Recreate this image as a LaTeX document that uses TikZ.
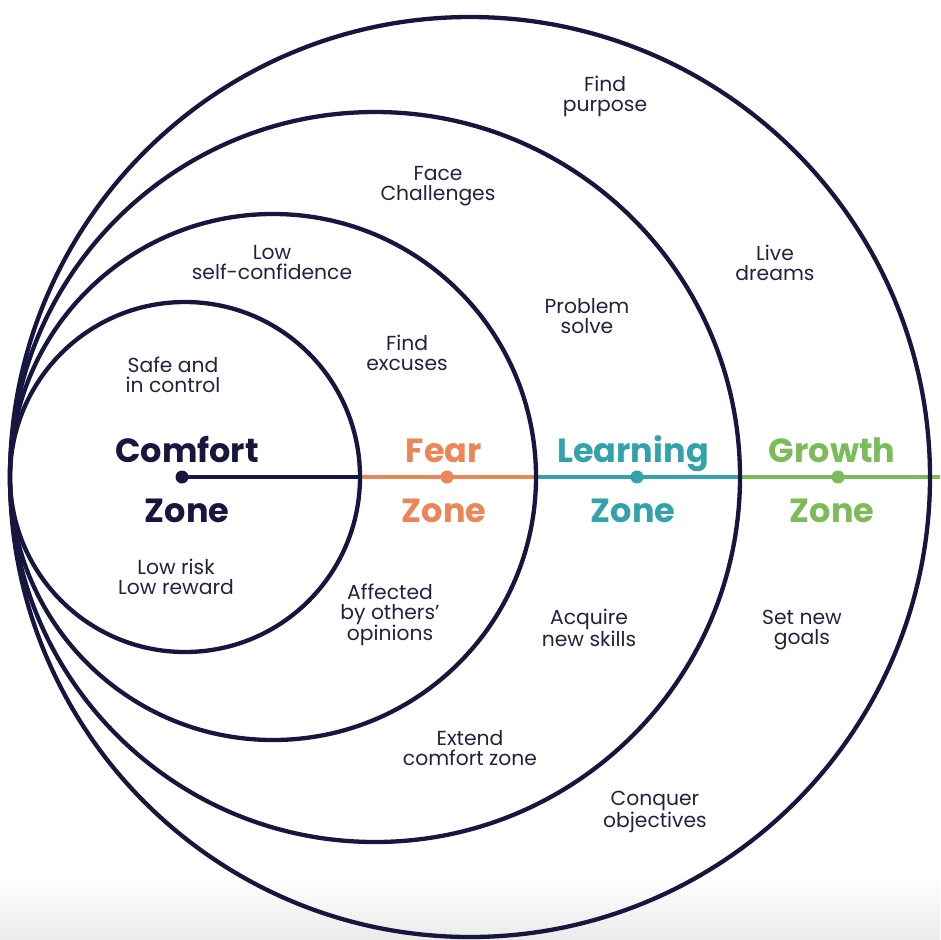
\documentclass[tikz,border=0pt]{standalone}
\usepackage{fontspec}
\setmainfont{Poppins}
\definecolor{navy}{HTML}{16163F}
\definecolor{txt}{HTML}{22223F}
\definecolor{zorange}{HTML}{EC8558}
\definecolor{zteal}{HTML}{33A3AB}
\definecolor{zgreen}{HTML}{7DBA58}
\begin{document}
\begin{tikzpicture}[x=1pt,y=-1pt,
  ring/.style={circle,inner sep=0pt,outer sep=0pt},
  ringline/.style={draw=navy,line width=4.3pt},
  zline/.style={line width=4.6pt},
  zdot/.style={circle,inner sep=0pt,outer sep=0pt,minimum size=13pt},
  big/.style={font=\fontsize{33.5}{35}\selectfont\bfseries,anchor=base,inner sep=0pt},
  small/.style={font=\fontsize{20.3}{20}\selectfont,text=txt,align=center,inner sep=0pt}]
\useasboundingbox (0,0) rectangle (940,940);
\shade[top color=white,bottom color=black!8] (0,875) rectangle (940,940);
% circle nodes (shapes only, drawn after the line)
\node[ring,minimum size=350pt] (c1) at (185,477) {};
\node[ring,minimum size=526pt] (c2) at (273,477) {};
\node[ring,minimum size=730pt] (c3) at (375,477) {};
\node[ring,minimum size=920pt] (c4) at (470,477) {};
\node[zdot] (d1) at (182,477) {};
\coordinate (lend) at (940,477);
% zone line segments
\draw[zline,navy] (d1.center) -- (c1.east);
\draw[zline,zorange] (c1.east) -- (c2.east);
\draw[zline,zteal] (c2.east) -- (c3.east);
\draw[zline,zgreen] (c3.east) -- (lend);
% circles
\draw[ringline] (c1.center) circle[radius=175pt];
\draw[ringline] (c2.center) circle[radius=263pt];
\draw[ringline] (c3.center) circle[radius=365pt];
\draw[ringline] (c4.center) circle[radius=460pt];
% dots
\fill[navy] (d1.center) circle[radius=6.5pt];
\node[zdot,fill=zorange] (d2) at (447,477) {};
\node[zdot,fill=zteal] (d3) at (637,477) {};
\node[zdot,fill=zgreen] (d4) at (838,477) {};
% zone labels
\node[big,text=navy] (l1a) at (187,462) {Comfort};
\node[big,text=navy] (l1b) at (187,522) {Zone};
\node[big,text=zorange] (l2a) at (444,462) {Fear};
\node[big,text=zorange] (l2b) at (444,522) {Zone};
\node[big,text=zteal] (l3a) at (633,462) {Learning};
\node[big,text=zteal] (l3b) at (633,522) {Zone};
\node[big,text=zgreen] (l4a) at (832,462) {Growth};
\node[big,text=zgreen] (l4b) at (832,522) {Zone};
% descriptions
\node[small] (s1) at (605,96) {Find\\purpose};
\node[small] (s2) at (438,186) {Face\\Challenges};
\node[small] (s3) at (775,263) {Live\\dreams};
\node[small] (s4) at (272,263) {Low\\self-confidence};
\node[small] (s5) at (587,316) {Problem\\solve};
\node[small] (s6) at (407,353) {Find\\excuses};
\node[small] (s7) at (173,375) {Safe and\\in control};
\node[small] (s8) at (176,577) {Low risk\\Low reward};
\node[small] (s9) at (390,615) {Affected\\by others’\\opinions};
\node[small] (s10) at (589,628) {Acquire\\new skills};
\node[small] (s11) at (802,630) {Set new\\goals};
\node[small] (s12) at (470,748) {Extend\\comfort zone};
\node[small] (s13) at (655,812) {Conquer\\objectives};
\end{tikzpicture}
\end{document}
